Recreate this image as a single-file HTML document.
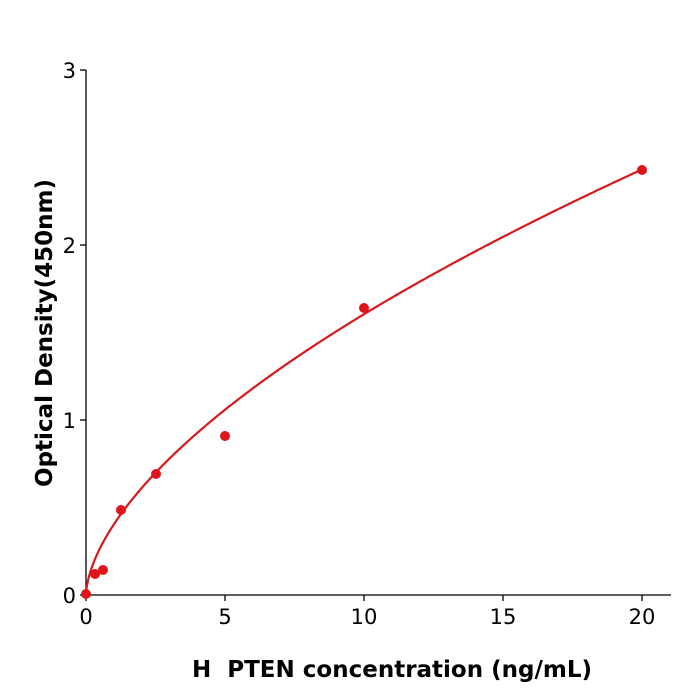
<!DOCTYPE html>
<html><head><meta charset="utf-8"><style>body{margin:0;background:#fff}svg{display:block}</style></head>
<body>
<svg id="s" width="700" height="700" xmlns="http://www.w3.org/2000/svg" font-family="DejaVu Sans, Liberation Sans, sans-serif">
<rect width="700" height="700" fill="#fff"/>
<g stroke="#000" stroke-width="1.3" fill="none">
<line x1="86" y1="70" x2="86" y2="595.5"/>
<line x1="85.5" y1="595" x2="671" y2="595"/>
<line x1="80" y1="595" x2="86" y2="595"/>
<line x1="80" y1="420" x2="86" y2="420"/>
<line x1="80" y1="245" x2="86" y2="245"/>
<line x1="80" y1="70" x2="86" y2="70"/>
<line x1="86" y1="595" x2="86" y2="601"/>
<line x1="225" y1="595" x2="225" y2="601"/>
<line x1="364" y1="595" x2="364" y2="601"/>
<line x1="503" y1="595" x2="503" y2="601"/>
<line x1="642" y1="595" x2="642" y2="601"/>
</g>
<g font-size="21" fill="#000" text-anchor="end">
<text x="76" y="603">0</text><text x="76" y="428">1</text><text x="76" y="253">2</text><text x="76" y="78">3</text>
</g>
<g font-size="21" fill="#000" text-anchor="middle">
<text x="86" y="624">0</text><text x="225" y="624">5</text><text x="364" y="624">10</text><text x="503" y="624">15</text><text x="642" y="624">20</text>
</g>
<text x="392" y="677" font-size="23" font-weight="bold" text-anchor="middle">H&#160; PTEN concentration (ng/mL)</text>
<text transform="translate(52,333) rotate(-90)" font-size="23" font-weight="bold" text-anchor="middle">Optical Density(450nm)</text>
<path id="c" fill="none" stroke="#d7191c" stroke-width="2.2"/>
<g fill="#e0141a">
<circle cx="86" cy="594" r="5"/><circle cx="95" cy="574" r="5"/><circle cx="103" cy="570" r="5"/>
<circle cx="121" cy="510" r="5"/><circle cx="156" cy="474" r="5"/><circle cx="225" cy="436" r="5"/>
<circle cx="364" cy="308" r="5"/><circle cx="642" cy="170" r="5"/>
</g>
</svg>
<script>
var d="";for(var i=0;i<=400;i++){var x=20*Math.pow(i/400,2);var y=0.403*Math.pow(x,0.6);d+=(i?"L":"M")+(86+x*27.8).toFixed(2)+" "+(595-y*175).toFixed(2);}
document.getElementById("c").setAttribute("d",d);
</script>
</body></html>
